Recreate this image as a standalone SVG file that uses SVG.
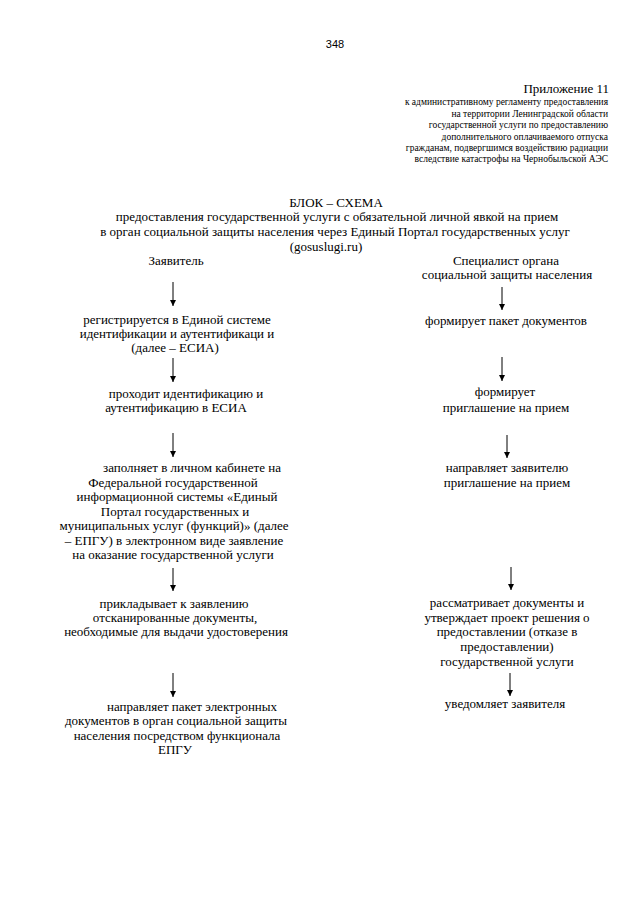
<svg xmlns="http://www.w3.org/2000/svg" width="640" height="905" viewBox="0 0 640 905" xml:space="preserve">
<defs>
<style>
.t{font-family:"Liberation Serif","Times New Roman",serif;font-size:13px;fill:#000;text-anchor:middle}
.h{font-family:"Liberation Serif","Times New Roman",serif;font-size:9.5px;fill:#000;text-anchor:end}
.pg{font-family:"Liberation Sans",Arial,sans-serif;font-size:11px;fill:#000;text-anchor:middle}
.c{stroke:#000;stroke-width:1;fill:none;marker-end:url(#ah)}
</style>
<marker id="ah" markerUnits="userSpaceOnUse" markerWidth="7" markerHeight="7" refX="6" refY="3" orient="auto">
<path d="M0,0 L6,3 L0,6 z" fill="#000"/>
</marker>
</defs>
<rect width="640" height="905" fill="#fff"/>
<g id="page-number"><text class="pg" x="335" y="48">348</text></g>
<g id="header">
<text class="h" x="609" y="93" style="font-size:13px">Приложение  11</text>
<text class="h" x="608" y="105">к  административному регламенту предоставления</text>
<text class="h" x="608" y="117">на территории Ленинградской области</text>
<text class="h" x="608" y="128">государственной услуги по  предоставлению</text>
<text class="h" x="608" y="140">дополнительного оплачиваемого отпуска</text>
<text class="h" x="608" y="151">гражданам, подвергшимся воздействию радиации</text>
<text class="h" x="608" y="162">вследствие катастрофы на Чернобыльской АЭС</text>
</g>
<g id="title">
<text class="t" x="336" y="207">БЛОК – СХЕМА</text>
<text class="t" x="337" y="221">предоставления государственной услуги  с обязательной личной явкой на прием</text>
<text class="t" x="335" y="236">в орган социальной защиты населения через Единый Портал государственных услуг</text>
<text class="t" x="326" y="251">(gosuslugi.ru)</text>
</g>
<g id="applicant"><text class="t" x="176" y="265">Заявитель</text></g>
<g id="specialist">
<text class="t" x="506" y="265">Специалист органа</text>
<text class="t" x="507" y="279">социальной защиты населения</text>
</g>
<g id="l1">
<text class="t" x="177" y="324">регистрируется в Единой системе</text>
<text class="t" x="177" y="338">идентификации и аутентификаци и</text>
<text class="t" x="175" y="352">(далее – ЕСИА)</text>
</g>
<g id="l2">
<text class="t" x="186" y="398">проходит идентификацию и</text>
<text class="t" x="176" y="412">аутентификацию в ЕСИА</text>
</g>
<g id="l3">
<text class="t" x="192" y="472">заполняет в личном кабинете на</text>
<text class="t" x="173" y="487">Федеральной государственной</text>
<text class="t" x="177" y="501">информационной системы «Единый</text>
<text class="t" x="175" y="516">Портал государственных и</text>
<text class="t" x="174" y="530">муниципальных услуг (функций)» (далее</text>
<text class="t" x="174" y="545">– ЕПГУ)  в электронном виде заявление</text>
<text class="t" x="173" y="559">на оказание государственной услуги</text>
</g>
<g id="l4">
<text class="t" x="174" y="608">прикладывает  к заявлению</text>
<text class="t" x="175" y="622">отсканированные документы,</text>
<text class="t" x="176" y="636">необходимые для выдачи удостоверения</text>
</g>
<g id="l5">
<text class="t" x="192" y="711">направляет пакет электронных</text>
<text class="t" x="176" y="725">документов в орган социальной защиты</text>
<text class="t" x="177" y="740">населения посредством функционала</text>
<text class="t" x="175" y="754">ЕПГУ</text>
</g>
<g id="r1"><text class="t" x="506" y="325">формирует пакет документов</text></g>
<g id="r2">
<text class="t" x="505" y="396">формирует</text>
<text class="t" x="506" y="412">приглашение на прием</text>
</g>
<g id="r3">
<text class="t" x="507" y="472">направляет заявителю</text>
<text class="t" x="507" y="487">приглашение на прием</text>
</g>
<g id="r4">
<text class="t" x="507" y="607">рассматривает документы и</text>
<text class="t" x="507" y="622">утверждает проект решения о</text>
<text class="t" x="507" y="636">предоставлении (отказе в</text>
<text class="t" x="507" y="651">предоставлении)</text>
<text class="t" x="507" y="666">государственной услуги</text>
</g>
<g id="r5"><text class="t" x="505" y="708">уведомляет заявителя</text></g>
<g id="connectors">
<line class="c" x1="173" y1="282" x2="173" y2="306"/>
<line class="c" x1="173" y1="358" x2="173" y2="382"/>
<line class="c" x1="173" y1="433" x2="173" y2="457"/>
<line class="c" x1="173" y1="568" x2="173" y2="591"/>
<line class="c" x1="173" y1="673" x2="173" y2="697"/>
<line class="c" x1="502" y1="287" x2="502" y2="310"/>
<line class="c" x1="502" y1="357" x2="502" y2="381"/>
<line class="c" x1="507" y1="435" x2="507" y2="458"/>
<line class="c" x1="511" y1="567" x2="511" y2="590"/>
<line class="c" x1="510" y1="673" x2="510" y2="696"/>
</g>
</svg>
